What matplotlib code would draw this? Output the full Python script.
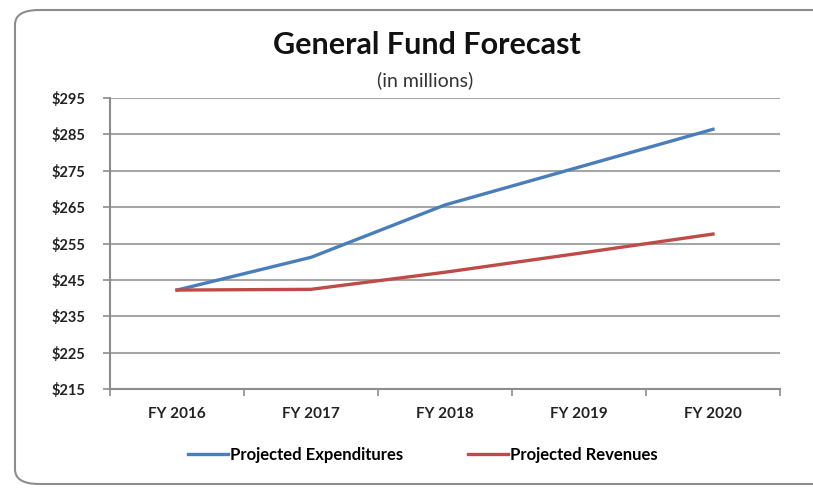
import matplotlib
matplotlib.use('Agg')
import matplotlib.pyplot as plt
from matplotlib.patches import FancyBboxPatch

years = ['FY 2016', 'FY 2017', 'FY 2018', 'FY 2019', 'FY 2020']
expenditures = [242.2, 251.2, 265.6, 276.0, 286.4]
revenues = [242.2, 242.4, 247.1, 252.3, 257.6]
ytick_vals = [215, 225, 235, 245, 255, 265, 275, 285, 295]

plt.rcParams['font.family'] = ['Lato', 'DejaVu Sans']

W, H = 813, 488
fig = plt.figure(figsize=(W / 100, H / 100), dpi=100)

# outer rounded frame like the Excel chart area
frame = FancyBboxPatch((15 / W, 4 / H), 840 / W, 474 / H,
                       boxstyle='round,pad=0,rounding_size=0.03',
                       transform=fig.transFigure, facecolor='white',
                       edgecolor='#8c8c8c', linewidth=1.5, zorder=-1)
fig.patches.append(frame)

ax = fig.add_axes([110 / W, 1 - 389 / H, 670 / W, 291 / H])
ax.set_zorder(2)
ax.set_facecolor('none')

x = list(range(len(years)))
ax.plot(x, expenditures, color='#4a7ebb', lw=2.4, label='Projected Expenditures', zorder=3)
ax.plot(x, revenues, color='#be4b48', lw=2.4, label='Projected Revenues', zorder=3)

ax.set_xlim(-0.5, len(years) - 0.5)
ax.set_ylim(215, 295)
ax.set_yticks(ytick_vals)
ax.set_yticklabels(['${}'.format(v) for v in ytick_vals], fontsize=10.5, fontweight='bold', color='#222222')
ax.set_xticks(x)
ax.set_xticklabels(years, fontsize=11, fontweight='bold', color='#222222')
ax.set_xticks([i - 0.5 for i in range(len(years) + 1)], minor=True)
ax.tick_params(axis='x', which='major', length=0, pad=13)
ax.tick_params(axis='x', which='minor', length=5, color='#8c8c8c', width=1.2)
ax.tick_params(axis='y', length=5, color='#8c8c8c', width=1.2, pad=13)

ax.grid(axis='y', color='#a6a6a6', lw=1.5)
ax.set_axisbelow(True)
for s in ['top', 'right']:
    ax.spines[s].set_visible(False)
for s in ['left', 'bottom']:
    ax.spines[s].set_color('#8c8c8c')
    ax.spines[s].set_linewidth(1.5)

fig.text(427 / W, 1 - 45 / H, 'General Fund Forecast', ha='center', va='center',
         fontsize=22, fontweight='bold', color='#111111', zorder=3)
fig.text(425 / W, 1 - 80 / H, '(in millions)', ha='center', va='center',
         fontsize=14, color='#333333', zorder=3)

ax.legend(loc='center', bbox_to_anchor=(423 / W, 1 - 455 / H), bbox_transform=fig.transFigure,
          ncol=2, frameon=False, handlelength=2.4, handletextpad=0.1, columnspacing=3.9,
          prop={'size': 12, 'weight': 'bold'})

fig.savefig('out.png', dpi=100)
